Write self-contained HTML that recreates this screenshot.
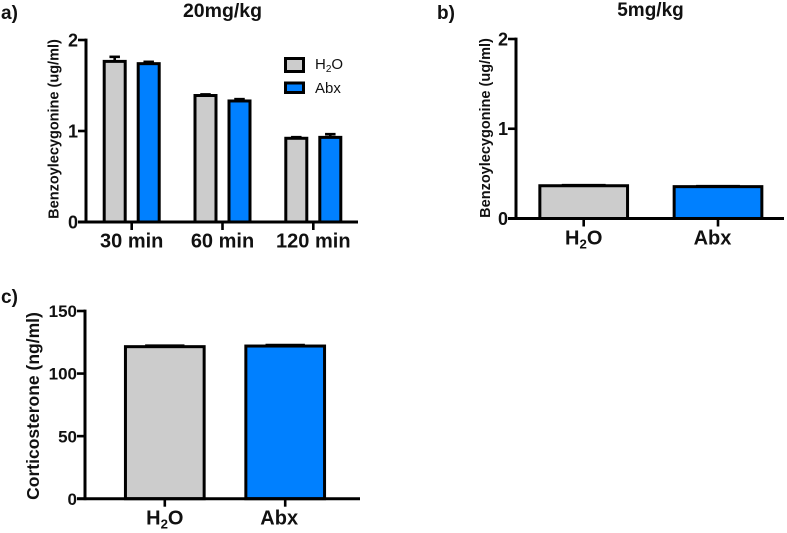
<!DOCTYPE html>
<html>
<head>
<meta charset="utf-8">
<title>Benzoylecgonine and corticosterone bar charts</title>
<style>
html,body{margin:0;padding:0;background:#fff;width:787px;height:533px;overflow:hidden}
svg{display:block}
text{font-family:"Liberation Sans",sans-serif;fill:#111}
.b{font-weight:bold}
</style>
</head>
<body>
<svg id="fig" width="787" height="533" viewBox="0 0 787 533" xmlns="http://www.w3.org/2000/svg">
  <text class="b" x="1" y="19" font-size="19">a)</text>
  <text class="b" x="437" y="19" font-size="19">b)</text>
  <text class="b" x="1" y="303" font-size="19">c)</text>
  <text class="b" x="222.5" y="17" font-size="19.5" text-anchor="middle">20mg/kg</text>
  <text class="b" x="650.5" y="16" font-size="19" text-anchor="middle">5mg/kg</text>
  <text class="b" transform="translate(58.5,129) rotate(-90)" font-size="14.5" text-anchor="middle">Benzoylecygonine (ug/ml)</text>
  <text class="b" transform="translate(490,128) rotate(-90)" font-size="14.5" text-anchor="middle">Benzoylecygonine (ug/ml)</text>
  <text class="b" transform="translate(39,406) rotate(-90)" font-size="17.5" text-anchor="middle">Corticosterone (ng/ml)</text>
  <g>
    <rect x="285.5" y="58.5" width="18" height="13" fill="#cccccc" stroke="#000" stroke-width="3"/>
    <text x="315" y="69" font-size="15" fill="#333">H<tspan font-size="10" dy="3">2</tspan><tspan dy="-3">O</tspan></text>
    <rect x="285.5" y="83" width="18" height="9.5" fill="#0080ff" stroke="#000" stroke-width="3"/>
    <text x="315" y="93" font-size="15" fill="#333">Abx</text>
  </g>
</svg>
<script>
const aCategories = ['30 min', '60 min', '120 min'];
const aH2O = [1.765, 1.39, 0.92];
const aAbx = [1.74, 1.33, 0.93];
const aH2OErr = [0.05, 0.012, 0.012];
const aAbxErr = [0.02, 0.02, 0.035];
const aTicks = [0, 1, 2];

const bCategories = ['H2O', 'Abx'];
const bH2O = [0.365];
const bAbx = [0.355];
const bH2OErr = [0.006];
const bAbxErr = [0.005];
const bTicks = [0, 1, 2];

const cCategories = ['H2O', 'Abx'];
const cH2O = [121.5];
const cAbx = [122];
const cH2OErr = [0.8];
const cAbxErr = [0.8];
const cTicks = [0, 50, 100, 150];

const NS = 'http://www.w3.org/2000/svg';
const svg = document.getElementById('fig');
const GRAY = '#cccccc';
const BLUE = '#0080ff';

function node(tag, attrs) {
  const el = document.createElementNS(NS, tag);
  for (const k in attrs) el.setAttribute(k, attrs[k]);
  svg.appendChild(el);
  return el;
}
function axisLine(x1, y1, x2, y2, w) {
  const el = node('line', {x1: x1, y1: y1, x2: x2, y2: y2, stroke: '#000', 'stroke-width': w});
  
  
  return el;
}
function drawBar(cx, width, value, err, color, yScale) {
  const top = yScale(value);
  const errTop = yScale(value + err);
  const stem = node('line', {x1: cx, x2: cx, y1: top, y2: errTop, stroke: '#000', 'stroke-width': 2.6});
  
  
  const cap = node('line', {x1: cx - width / 4, x2: cx + width / 4, y1: errTop, y2: errTop, stroke: '#000', 'stroke-width': 2.6});
  
  
  const bar = node('rect', {x: cx - width / 2, y: top, width: width, height: yScale(0) - top, fill: color, stroke: '#000', 'stroke-width': 3});
  
  
}
function drawCategoryLabel(cx, y, size, label) {
  const t = node('text', {x: cx, y: y, 'font-size': size, 'font-weight': 'bold', 'text-anchor': 'middle'});
  
  
  if (label === 'H2O') {
    t.appendChild(document.createTextNode('H'));
    const sub = document.createElementNS(NS, 'tspan');
    sub.setAttribute('font-size', size * 0.66);
    sub.setAttribute('dy', 4);
    sub.textContent = '2';
    t.appendChild(sub);
    const o = document.createElementNS(NS, 'tspan');
    o.setAttribute('dy', -4);
    o.textContent = 'O';
    t.appendChild(o);
  } else {
    t.textContent = label;
  }
}
function drawPanel(p) {
  const yScale = v => p.y0 - (v / p.yMax) * (p.y0 - p.yTop);
  const xCenter = i => p.firstCenter + i * p.step;
  p.cats.forEach((c, i) => {
    const cx = xCenter(i);
    if (p.grouped) {
      drawBar(cx - p.offset, p.barW, p.s1[i], p.e1[i], GRAY, yScale);
      drawBar(cx + p.offset, p.barW, p.s2[i], p.e2[i], BLUE, yScale);
    } else if (i === 0) {
      drawBar(cx, p.barW, p.s1[0], p.e1[0], GRAY, yScale);
    } else {
      drawBar(cx, p.barW, p.s2[0], p.e2[0], BLUE, yScale);
    }
    axisLine(cx, p.y0, cx, p.y0 + 8, 2.6);
    drawCategoryLabel(cx + (c === 'Abx' ? p.abxShift : 0), p.y0 + p.catDy, p.catSize, c);
  });
  axisLine(p.xAxis, p.yTop - 1.4, p.xAxis, p.y0 + 1.4, 3);
  axisLine(p.xAxis - 8, p.y0, p.xEnd, p.y0, 3);
  p.ticks.forEach(t => {
    const y = yScale(t);
    axisLine(p.xAxis - 8, y, p.xAxis, y, 2.6);
    const lab = node('text', {x: p.xAxis - 8, y: y + p.tickSize * 0.36, 'font-size': p.tickSize, 'font-weight': 'bold', 'text-anchor': 'end'});
    
    
    lab.textContent = t;
  });
}

drawPanel({cats: aCategories, s1: aH2O, s2: aAbx, e1: aH2OErr, e2: aAbxErr, ticks: aTicks, grouped: true,
  y0: 222, yTop: 40, yMax: 2, xAxis: 86, xEnd: 358, firstCenter: 131.7, step: 90.8, offset: 17, barW: 21,
  catDy: 25.5, catSize: 20, tickSize: 18, abxShift: 0});
drawPanel({cats: bCategories, s1: bH2O, s2: bAbx, e1: bH2OErr, e2: bAbxErr, ticks: bTicks, grouped: false,
  y0: 218.5, yTop: 39, yMax: 2, xAxis: 516, xEnd: 784, firstCenter: 583.7, step: 134.3, offset: 0, barW: 87.7,
  catDy: 26, catSize: 20, tickSize: 18, abxShift: -5.5});
drawPanel({cats: cCategories, s1: cH2O, s2: cAbx, e1: cH2OErr, e2: cAbxErr, ticks: cTicks, grouped: false,
  y0: 498.7, yTop: 311, yMax: 150, xAxis: 85, xEnd: 360, firstCenter: 164.8, step: 120.4, offset: 0, barW: 78.7,
  catDy: 26, catSize: 20, tickSize: 17, abxShift: -6});
</script>
</body>
</html>
